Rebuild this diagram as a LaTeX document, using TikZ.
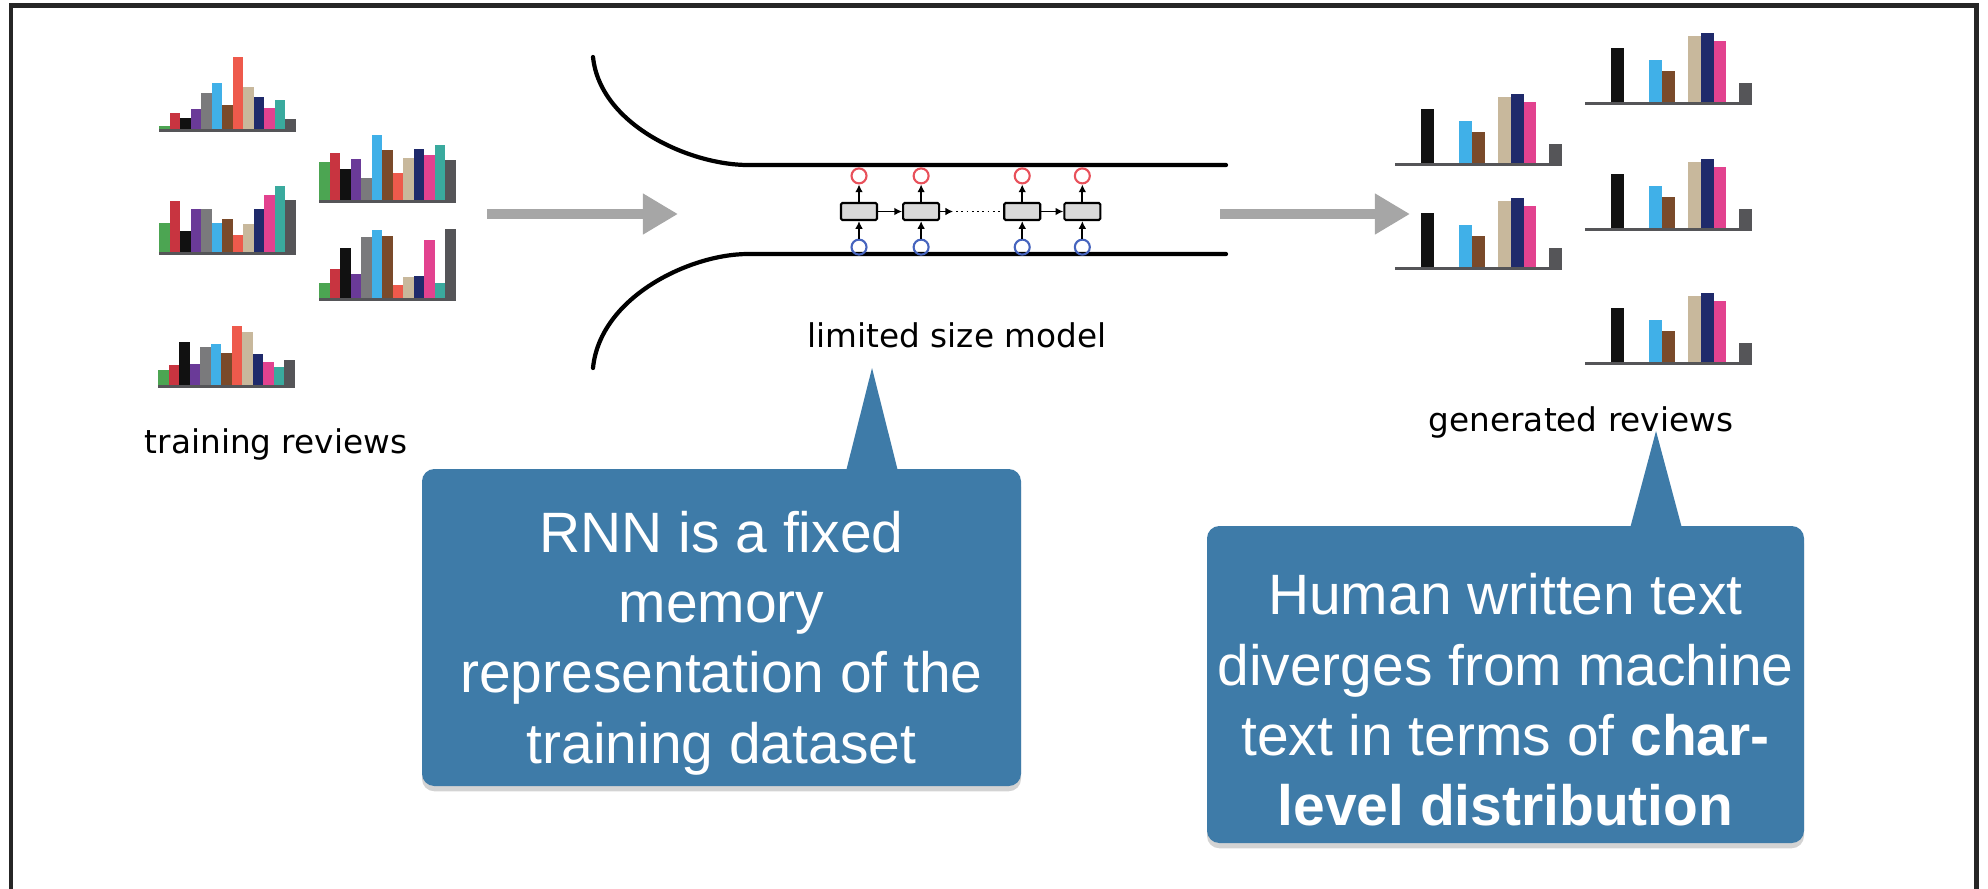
\documentclass[tikz,border=0pt]{standalone}
\usepackage{fontspec}
\setmainfont{Liberation Sans}
\newfontfamily\labelfont{DejaVu Sans}
\usetikzlibrary{positioning,calc,arrows.meta,shadows}
\definecolor{barc0}{RGB}{76,165,82}
\definecolor{barc1}{RGB}{200,52,64}
\definecolor{barc2}{RGB}{17,17,17}
\definecolor{barc3}{RGB}{106,58,152}
\definecolor{barc4}{RGB}{122,122,124}
\definecolor{barc5}{RGB}{64,176,232}
\definecolor{barc6}{RGB}{122,74,42}
\definecolor{barc7}{RGB}{238,90,76}
\definecolor{barc8}{RGB}{200,184,156}
\definecolor{barc9}{RGB}{31,42,107}
\definecolor{barc10}{RGB}{226,66,143}
\definecolor{barc11}{RGB}{58,170,158}
\definecolor{barc12}{RGB}{85,85,88}
\definecolor{calloutblue}{RGB}{62,123,168}
\definecolor{arrowgray}{RGB}{166,166,166}
\definecolor{outred}{RGB}{232,80,90}
\definecolor{inblue}{RGB}{70,100,190}
\tikzset{
  frame/.style={draw=black!85, line width=0.45mm},
  funnel/.style={line width=1.2pt, line cap=round},
  cell/.style={draw, fill=black!15, minimum width=3.6mm, minimum height=1.7mm, inner sep=0pt, rounded corners=0.4pt, line width=0.6pt},
  out state/.style={circle, draw=outred, line width=0.6pt, minimum size=1.5mm, inner sep=0pt},
  in state/.style={out state, draw=inblue},
  tiny arrow/.style={-{Latex[length=2.2pt,width=2.2pt]}, line width=0.5pt},
  flow arrow/.style={draw=arrowgray, line width=3pt, -{Triangle[length=10pt,width=11pt]}},
  label text/.style={font=\labelfont\fontsize{9.3}{11}\selectfont, inner sep=0pt, anchor=base},
  callout box/.style={fill=calloutblue, rounded corners=3.5pt, text=white, align=center, inner sep=0pt,
    font=\fontsize{16.2}{20}\selectfont, drop shadow={shadow xshift=0pt, shadow yshift=-1.5pt, opacity=0.35}},
  callout tip/.style={fill=calloutblue},
  bar rule/.style={draw=barc12, line width=0.3mm},
}
% one review: 13 bars side by side on a rule
\newcommand{\reviewchart}[4]{%
  \foreach \h [count=\k from 0] in {#4}{%
    \fill[fill=barc\k] ({#1+\k*#3},#2) rectangle ++(#3,-\h);
  }
  \draw[bar rule] (#1,#2) -- ++({13*#3},0);
}
% pushes the callout text a little down in its box
\newcommand{\topgap}{\rule{0pt}{20.5pt}}

\begin{document}
\begin{tikzpicture}[x=0.1mm,y=-0.1mm]
\useasboundingbox (0,0) rectangle (1988,888);
\draw[frame] (11,5.5) rectangle (1976.5,900);
%training reviews
\reviewchart{159}{130}{10.5}{4,17,12,21,37,47,25,73,43,33,22,30,11}
\reviewchart{319}{201}{10.5}{39,48,32,42,23,66,51,28,43,52,46,56,41}
\reviewchart{159}{253}{10.5}{30,52,22,44,44,30,34,18,29,44,58,67,53}
\reviewchart{319}{299}{10.5}{16,30,51,25,62,69,63,14,22,23,59,16,70}
\reviewchart{158}{386}{10.5}{16,21,44,22,39,42,33,60,54,32,24,19,26}
\node[label text] (traintxt) at (276,453) {training reviews};
%generated reviews
\reviewchart{1395}{164}{12.85}{0,0,55,0,0,43,32,0,67,70,62,0,20}
\reviewchart{1395}{268}{12.85}{0,0,55,0,0,43,32,0,67,70,62,0,20}
\reviewchart{1585}{103}{12.85}{0,0,55,0,0,43,32,0,67,70,62,0,20}
\reviewchart{1585}{229}{12.85}{0,0,55,0,0,43,32,0,67,70,62,0,20}
\reviewchart{1585}{363}{12.85}{0,0,55,0,0,43,32,0,67,70,62,0,20}
\node[label text] (gentxt) at (1581,431) {generated reviews};
%the model
\draw[funnel] (593,57) .. controls (600,125) and (690,165) .. (748,165) -- (1226,165);
\draw[funnel] (593,368) .. controls (600,297) and (690,254) .. (748,254) -- (1226,254);
\node[cell] (c1) at (859,211.5) {};
\node[cell, right=2.4mm of c1] (c2) {};
\node[cell, right=6.3mm of c2] (c3) {};
\node[cell, right=2.2mm of c3] (c4) {};
\foreach \n in {1,...,4}{
  \node[out state, above=1.75mm of c\n] (o\n) {};
  \node[in state, below=1.75mm of c\n] (i\n) {};
  \draw[tiny arrow] (c\n.north) -- (o\n.south);
  \draw[tiny arrow] (i\n.north) -- (c\n.south);
}
\draw[tiny arrow] (c1.east) -- (c2.west);
\draw[densely dotted, line width=0.5pt] (c2.east) -- (c3.west);
\draw[tiny arrow] (c2.east) -- ++(1.3mm,0);
\draw[tiny arrow] (c3.east) -- (c4.west);
\node[label text] (modeltxt) at (957,347) {limited size model};
%flow arrows
\coordinate (in1) at (487,214);
\coordinate (in2) at (678,214);
\coordinate (out1) at (1220,214);
\coordinate (out2) at (1410,214);
\draw[flow arrow] (in1) -- (in2);
\draw[flow arrow] (out1) -- (out2);
%callouts
\node[callout box, minimum width=5.99cm, minimum height=3.17cm] (note1) at (721.5,627.5)
  {\topgap RNN is a fixed\\memory\\representation of the\\training dataset};
\coordinate (tip1) at (872,368);
\fill[callout tip] (tip1) -- ($(tip1 |- note1.north)+(-26,3)$) -- ($(tip1 |- note1.north)+(26,3)$) -- cycle;
\node[callout box, minimum width=5.97cm, minimum height=3.17cm] (note2) at (1505.5,684.5)
  {\topgap Human written text\\diverges from machine\\text in terms of \textbf{char-}\\\textbf{level distribution}};
\coordinate (tip2) at (1656,431);
\fill[callout tip] (tip2) -- ($(tip2 |- note2.north)+(-26,3)$) -- ($(tip2 |- note2.north)+(26,3)$) -- cycle;
\end{tikzpicture}
\end{document}
